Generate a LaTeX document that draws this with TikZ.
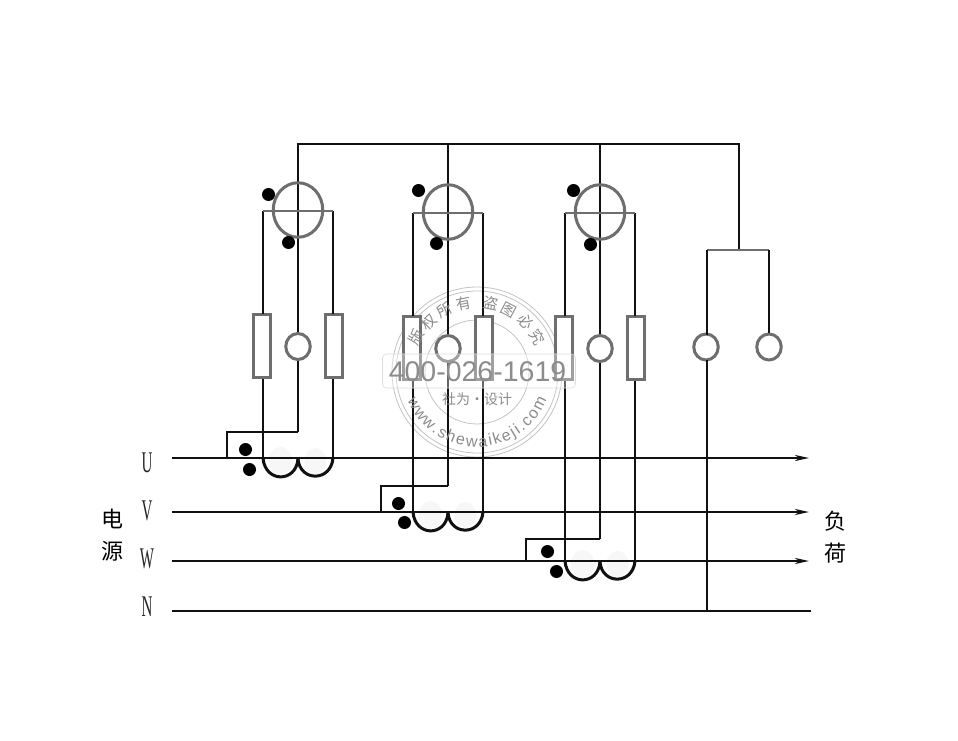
\documentclass[tikz,border=0pt]{standalone}
\usepackage{fontspec}
\usetikzlibrary{arrows.meta,decorations.text,shapes.geometric}
\newfontfamily\cjkf{Noto Sans CJK SC}
\setmainfont{Liberation Serif}
\setsansfont{Liberation Sans}
\definecolor{part}{HTML}{6E6E6E}
\definecolor{wire}{HTML}{111111}
\definecolor{wm}{HTML}{C4C4C4}
\definecolor{wmt}{HTML}{8C8C8C}
\tikzset{
  wireline/.style={draw=wire,line width=2pt},
  partline/.style={draw=part,line width=2pt},
  resbox/.style={draw=part,line width=3pt,fill=white,minimum width=17.5pt,minimum height=63.5pt,inner sep=0pt},
  coilbox/.style={draw=part,line width=3pt,fill=white,ellipse,inner sep=0pt,minimum width=24.5pt,minimum height=26pt},
  coilwire/.style={draw=wire,line width=3pt},
  dotm/.style={circle,fill=black,minimum size=13pt,inner sep=0pt},
  phase/.style={font=\fontsize{30}{30}\selectfont,xscale=.5,transform shape,text=black!85,inner sep=0pt},
  hanzi/.style={font=\cjkf\fontsize{22}{22}\selectfont,inner sep=0pt,text=black},
  bus/.style={draw=wire,line width=2pt},
  busarrow/.style={bus,-{Stealth[length=14pt,width=6pt,inset=4pt]}},
  wmring/.style={draw=wm,line width=.8pt},
  wmtext/.style={text=wmt,inner sep=0pt}
}
\newcommand{\meter}[7]{%
 \coordinate (top#1) at (#2,144);
 \coordinate (barL#1) at (#2-35,#4);
 \coordinate (barR#1) at (#2+35,#4);
 \node[resbox] (rl#1) at (#2-36,#5) {};
 \node[resbox] (rr#1) at (#2+36,#5) {};
 \node[coilbox] (c#1) at (#2,#5+.5) {};
 \draw[wireline] (top#1) -- (c#1.north);
 \draw[wireline] (barL#1) -- (#2-35,#5-32);
 \draw[wireline] (barR#1) -- (#2+35,#5-32);
 \draw[wireline] (#2-35,#5+33) -- (#2-35,#7);
 \draw[wireline] (#2+35,#5+33) -- (#2+35,#7);
 \draw[wireline] (c#1.south) -- (#2,#6);
 \node[draw=part,line width=3pt,ellipse,minimum width=49.5pt,minimum height=54.5pt,inner sep=0pt] (m#1) at (#2,#3) {};
 \draw[partline] (barL#1) -- (barR#1);
 \fill[black!3] (#2-17.5,#7+3) ellipse (12 and 14);
 \fill[black!3] (#2+17.5,#7+3) ellipse (11 and 13);
 \draw[coilwire] (#2-35,#7) .. controls (#2-33,#7+25) and (#2-2,#7+25) .. (#2,#7+1);
 \draw[coilwire] (#2,#7+1) .. controls (#2+2,#7+24) and (#2+33,#7+24) .. (#2+35,#7);
}
\begin{document}
\begin{tikzpicture}[x=1pt,y=-1pt]
\useasboundingbox (0,0) rectangle (958,741);
\fill[white] (0,0) rectangle (958,741);

% watermark rings
\coordinate (wmc) at (477,372);
\draw[wmring] (wmc) circle (85);
\draw[wmring] (wmc) circle (81);
\draw[wmring] (wmc) circle (52);

% buses
\coordinate (us) at (172,458); \coordinate (ue) at (809,458);
\coordinate (vs) at (172,512); \coordinate (ve) at (809,512);
\coordinate (ws) at (172,561); \coordinate (we) at (809,561);
\coordinate (ns) at (172,611); \coordinate (ne) at (811,611);

% phases
\meter{a}{298}{210}{211}{346}{432}{458}
\meter{b}{448}{212}{213}{348}{486}{512}
\meter{c}{600}{212}{213}{348}{539}{561}

\draw[busarrow] (us) -- (ue);
\draw[busarrow] (vs) -- (ve);
\draw[busarrow] (ws) -- (we);
\draw[bus] (ns) -- (ne);

% supply return
\coordinate (ua) at (227,432);
\coordinate (ub) at (381,486);
\coordinate (uc) at (526,539);
\coordinate (ea) at (227,458);
\coordinate (eb) at (381,512);
\coordinate (ec) at (526,561);
\draw[wireline] (298,432) -- (ua) -- (ea);
\draw[wireline] (448,486) -- (ub) -- (eb);
\draw[wireline] (600,539) -- (uc) -- (ec);

% top bus
\coordinate (bl) at (297,144);
\coordinate (br) at (739,144);
\coordinate (bs) at (739,250);
\draw[wireline] (bl) -- (br) -- (bs);
\node[coilbox] (cn) at (706,347) {};
\node[coilbox] (co) at (769,347) {};
\coordinate (sl) at (707,250);
\coordinate (sr) at (769,250);
\draw[partline] (sl) -- (sr);
\draw[wireline] (sl) -- (707,335);
\draw[wireline] (sr) -- (co.north);
\coordinate (nj) at (707,611);
\draw[wireline] (707,360) -- (nj);

% polarity dots
\node[dotm] (d1) at (268.5,194.5) {};
\node[dotm] (d2) at (288.5,242.5) {};
\node[dotm] (d3) at (418.5,190.5) {};
\node[dotm] (d4) at (436.5,243.5) {};
\node[dotm] (d5) at (573.5,190.5) {};
\node[dotm] (d6) at (590.5,244.5) {};
\node[dotm] (d7) at (245.5,449.5) {};
\node[dotm] (d8) at (249.5,469.5) {};
\node[dotm] (d9) at (398.5,503.5) {};
\node[dotm] (d10) at (404.5,522.5) {};
\node[dotm] (d11) at (547.5,551.5) {};
\node[dotm] (d12) at (556.5,571.5) {};

% labels
\node[phase] (lu) at (147,463) {U};
\node[phase] (lv) at (147,510.5) {V};
\node[phase] (lw) at (147,559) {W};
\node[phase] (ln) at (147,607) {N};
\node[hanzi] (h1) at (112,519) {电};
\node[hanzi] (h2) at (112,551) {源};
\node[hanzi] (h3) at (835,521) {负};
\node[hanzi] (h4) at (835,553) {荷};

% watermark front
\node[draw=wm!60,line width=.6pt,rounded corners=4pt,fill=white,fill opacity=.35,minimum width=193pt,minimum height=34pt,inner sep=0pt] (wmb) at (479,371) {};
\node[wmtext,font=\sffamily\fontsize{28.5}{28.5}\selectfont,text=black!45] (wmn) at (477.5,372) {400-026-1619};
\node[wmtext,font=\cjkf\fontsize{14}{14}\selectfont] (wms) at (477,399) {社为·设计};
\path[decorate,decoration={text along path,text align=fit to path,
  text={|\cjkf\fontsize{15}{15}\selectfont\color{wmt}|版权所有 盗图必究}}]
  (418.1,347) arc[start angle=-157,end angle=-23,radius=64];
\path[decorate,decoration={text along path,text align=fit to path,
  text={|\sffamily\fontsize{16}{16}\selectfont\color{wmt}|www.shewaikeji.com}}]
  (407.5,400) arc[start angle=158,end angle=22,radius=75];
\end{tikzpicture}
\end{document}
